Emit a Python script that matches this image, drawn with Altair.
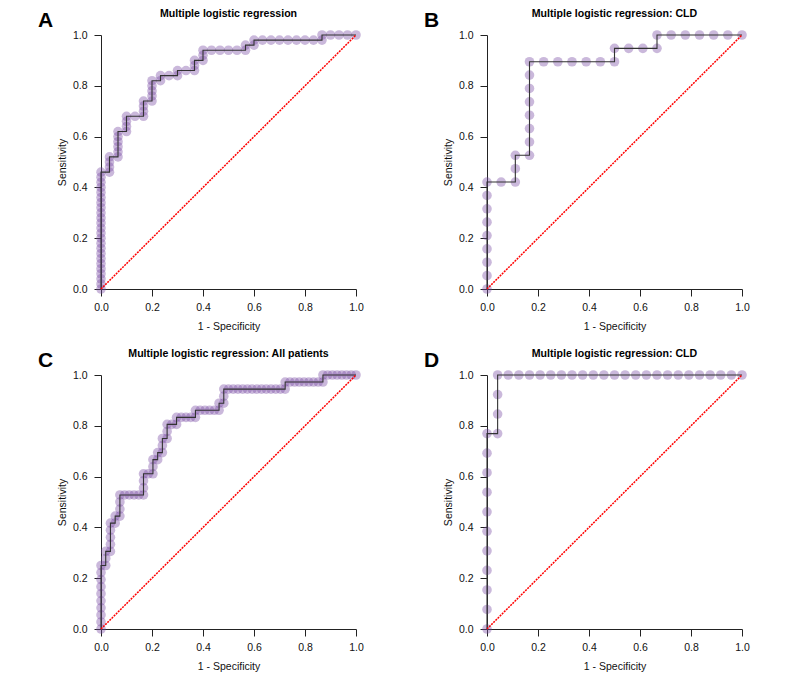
import altair as alt
import pandas as pd

FONT = "Liberation Sans"
PURPLE = "#7a4ea6"

# ---------------- Panel A: counts of false positives / true positives per threshold
A_NEG = 30
A_POS = 50
A_FP = [
    0, 0, 0, 0, 0, 0, 0, 0, 0, 0, 0, 0, 0, 0, 0, 0, 0, 0, 0, 0, 0, 0, 0, 0,
    1, 1, 1, 1,
    2, 2, 2, 2, 2, 2,
    3, 3, 3, 3,
    4,
    5, 5, 5, 5,
    6, 6, 6, 6, 6,
    7, 7,
    8,
    9, 9,
    10,
    11, 11, 11,
    12, 12, 12,
    13, 14, 15, 16,
    17, 17,
    18, 18,
    19, 20, 21, 22, 23, 24, 25,
    26, 26,
    27, 28, 29, 30,
]
A_TP = [
    0, 1, 2, 3, 4, 5, 6, 7, 8, 9, 10, 11, 12, 13, 14, 15, 16, 17, 18, 19, 20, 21, 22, 23,
    23, 24, 25, 26,
    26, 27, 28, 29, 30, 31,
    31, 32, 33, 34,
    34,
    34, 35, 36, 37,
    37, 38, 39, 40, 41,
    41, 42,
    42,
    42, 43,
    43,
    43, 44, 45,
    45, 46, 47,
    47, 47, 47, 47,
    47, 48,
    48, 49,
    49, 49, 49, 49, 49, 49, 49,
    49, 50,
    50, 50, 50, 50,
]

# ---------------- Panel B
B_NEG = 18
B_POS = 19
B_FP = [0, 0, 0, 0, 0, 0, 0, 0, 0,
        1,
        2, 2, 2,
        3, 3, 3, 3, 3, 3, 3, 3,
        4, 5, 6, 7, 8,
        9, 9,
        10, 11,
        12, 12,
        13, 14, 15, 16, 17, 18]
B_TP = [0, 1, 2, 3, 4, 5, 6, 7, 8,
        8,
        8, 9, 10,
        10, 11, 12, 13, 14, 15, 16, 17,
        17, 17, 17, 17, 17,
        17, 18,
        18, 18,
        18, 19,
        19, 19, 19, 19, 19, 19]

# ---------------- Panel C
C_NEG = 54
C_POS = 36
C_FP = [
    0, 0, 0, 0, 0, 0, 0, 0, 0, 0,
    1, 1, 1,
    2, 2, 2, 2, 2,
    3, 3,
    4, 4, 4, 4,
    5, 6, 7, 8,
    9, 9, 9, 9,
    10,
    11, 11, 11,
    12, 12,
    13, 13, 13,
    14, 14, 14,
    15,
    16, 16,
    17, 18, 19,
    20, 20,
    21, 22, 23, 24,
    25, 25,
    26, 26, 26,
    27, 28, 29, 30, 31, 32, 33, 34, 35, 36, 37, 38,
    39, 39,
    40, 41, 42, 43, 44, 45, 46,
    47, 47,
    48, 49, 50, 51, 52, 53, 54,
]
C_TP = [
    0, 1, 2, 3, 4, 5, 6, 7, 8, 9,
    9, 10, 11,
    11, 12, 13, 14, 15,
    15, 16,
    16, 17, 18, 19,
    19, 19, 19, 19,
    19, 20, 21, 22,
    22,
    22, 23, 24,
    24, 25,
    25, 26, 27,
    27, 28, 29,
    29,
    29, 30,
    30, 30, 30,
    30, 31,
    31, 31, 31, 31,
    31, 32,
    32, 33, 34,
    34, 34, 34, 34, 34, 34, 34, 34, 34, 34, 34, 34,
    34, 35,
    35, 35, 35, 35, 35, 35, 35,
    35, 36,
    36, 36, 36, 36, 36, 36, 36,
]

# ---------------- Panel D
D_NEG = 24
D_POS = 13
D_FP = [0, 0, 0, 0, 0, 0, 0, 0, 0, 0, 0,
        1, 1, 1, 1,
        2, 3, 4, 5, 6, 7, 8, 9, 10, 11, 12, 13, 14, 15, 16, 17, 18, 19, 20,
        21, 22, 23, 24]
D_TP = [0, 1, 2, 3, 4, 5, 6, 7, 8, 9, 10,
        10, 11, 12, 13,
        13, 13, 13, 13, 13, 13, 13, 13, 13, 13, 13, 13, 13, 13, 13, 13, 13, 13, 13,
        13, 13, 13, 13]

DIAG_X = [0.0, 1.0]
DIAG_Y = [0.0, 1.0]
TICKS = [0.0, 0.2, 0.4, 0.6, 0.8, 1.0]

LETTERS = ["A", "B", "C", "D"]
TITLES = [
    "Multiple logistic regression",
    "Multiple logistic regression: CLD",
    "Multiple logistic regression: All patients",
    "Multiple logistic regression: CLD",
]

W, H = 255, 254

axis_common = dict(
    values=TICKS, format=".1f", grid=False, tickSize=7,
    domainColor="#222222", tickColor="#222222", domainWidth=1, tickWidth=1,
    labelFont=FONT, labelFontSize=10.5, labelColor="#111111",
    titleFont=FONT, titleFontSize=10.5, titleFontWeight="normal", titleColor="#111111",
    labelFlush=False, labelOverlap=False,
)


def panel(fp, tp, nneg, npos, letter, title):
    df = pd.DataFrame({
        "fpr": [f / nneg for f in fp],
        "tpr": [t / npos for t in tp],
        "i": list(range(len(fp))),
    })
    diag = pd.DataFrame({"fpr": DIAG_X, "tpr": DIAG_Y})
    sc = alt.Scale(domain=[0, 1], nice=False, zero=False)
    x = alt.X("fpr:Q", scale=sc,
              axis=alt.Axis(title="1 - Specificity", labelPadding=6.5, titlePadding=8, **axis_common))
    y = alt.Y("tpr:Q", scale=sc,
              axis=alt.Axis(title="Sensitivity", labelPadding=7, titlePadding=5, **axis_common))
    pts = alt.Chart(df).mark_circle(size=92, color=PURPLE, opacity=0.4, strokeWidth=0).encode(x=x, y=y)
    line = alt.Chart(df).mark_line(color="#333333", strokeWidth=1.1).encode(x=x, y=y, order="i:Q")
    dg = alt.Chart(diag).mark_line(color="#ff0000", strokeWidth=1.5, strokeDash=[2, 1]).encode(x=x, y=y)
    lab = alt.Chart(pd.DataFrame({"t": [letter]})).mark_text(
        font=FONT, fontSize=21, fontWeight="bold", align="center", baseline="alphabetic", color="#000000"
    ).encode(x=alt.value(-55.5), y=alt.value(-8), text="t:N")
    ttl = alt.Chart(pd.DataFrame({"t": [title]})).mark_text(
        font=FONT, fontSize=10.6, fontWeight="bold", align="center", baseline="alphabetic", color="#000000"
    ).encode(x=alt.value(W / 2), y=alt.value(-18.3), text="t:N")
    return alt.layer(pts, line, dg, lab, ttl).properties(width=W, height=H)


pA = panel(A_FP, A_TP, A_NEG, A_POS, LETTERS[0], TITLES[0])
pB = panel(B_FP, B_TP, B_NEG, B_POS, LETTERS[1], TITLES[1])
pC = panel(C_FP, C_TP, C_NEG, C_POS, LETTERS[2], TITLES[2])
pD = panel(D_FP, D_TP, D_NEG, D_POS, LETTERS[3], TITLES[3])

chart = alt.concat(
    pA, pB, pC, pD, columns=2, spacing={"row": 86, "column": 131}, bounds="flush"
).properties(
    padding={"left": 29, "top": 0, "right": 5, "bottom": 5}
).configure_view(stroke=None)

chart.save("out.html", embed_options={"renderer": "svg", "actions": False})
